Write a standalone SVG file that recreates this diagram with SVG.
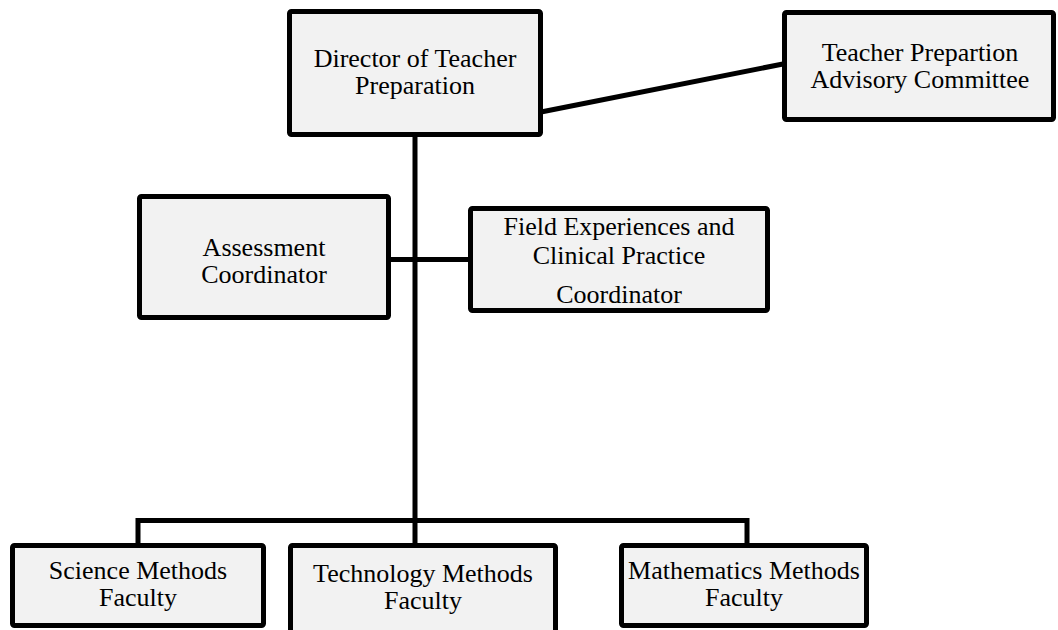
<svg xmlns="http://www.w3.org/2000/svg" width="1058" height="630" viewBox="0 0 1058 630">
<style>
.box{fill:#f2f2f2;stroke:#000;stroke-width:5}
.lbl{font-family:"Liberation Serif","Times New Roman",serif;font-size:26px;fill:#000;text-anchor:middle}
.conn{stroke:#000;stroke-width:5;fill:none}
</style>
<rect width="1058" height="630" fill="#fff"/>
<g id="connectors">
<line class="conn" x1="541" y1="112" x2="783" y2="64"/>
<line class="conn" x1="415" y1="136" x2="415" y2="544"/>
<line class="conn" x1="390" y1="259.5" x2="469" y2="259.5"/>
<polyline class="conn" points="138,544 138,520.5 747,520.5 747,544"/>
</g>
<g id="director">
<rect class="box" x="289.5" y="11.5" width="251" height="123" rx="2"/>
<text class="lbl" x="415" y="67">Director of Teacher</text>
<text class="lbl" x="415" y="94">Preparation</text>
</g>
<g id="advisory">
<rect class="box" x="784.5" y="12.5" width="269" height="107" rx="2"/>
<text class="lbl" x="920" y="61">Teacher Prepartion</text>
<text class="lbl" x="920" y="88">Advisory Committee</text>
</g>
<g id="assessment">
<rect class="box" x="139.5" y="196.5" width="249" height="121" rx="2"/>
<text class="lbl" x="264" y="256">Assessment</text>
<text class="lbl" x="264" y="283">Coordinator</text>
</g>
<g id="field">
<rect class="box" x="470.5" y="208.5" width="297" height="102" rx="2"/>
<text class="lbl" x="619" y="235">Field Experiences and</text>
<text class="lbl" x="619" y="264">Clinical Practice</text>
<text class="lbl" x="619" y="303">Coordinator</text>
</g>
<g id="science">
<rect class="box" x="12.5" y="545.5" width="251" height="80" rx="2"/>
<text class="lbl" x="138" y="579">Science Methods</text>
<text class="lbl" x="138" y="606">Faculty</text>
</g>
<g id="technology">
<rect class="box" x="290.5" y="545.5" width="265" height="95" rx="2"/>
<text class="lbl" x="423" y="582">Technology Methods</text>
<text class="lbl" x="423" y="609">Faculty</text>
</g>
<g id="mathematics">
<rect class="box" x="621.5" y="545.5" width="245" height="80" rx="2"/>
<text class="lbl" x="744" y="579">Mathematics Methods</text>
<text class="lbl" x="744" y="606">Faculty</text>
</g>
</svg>
